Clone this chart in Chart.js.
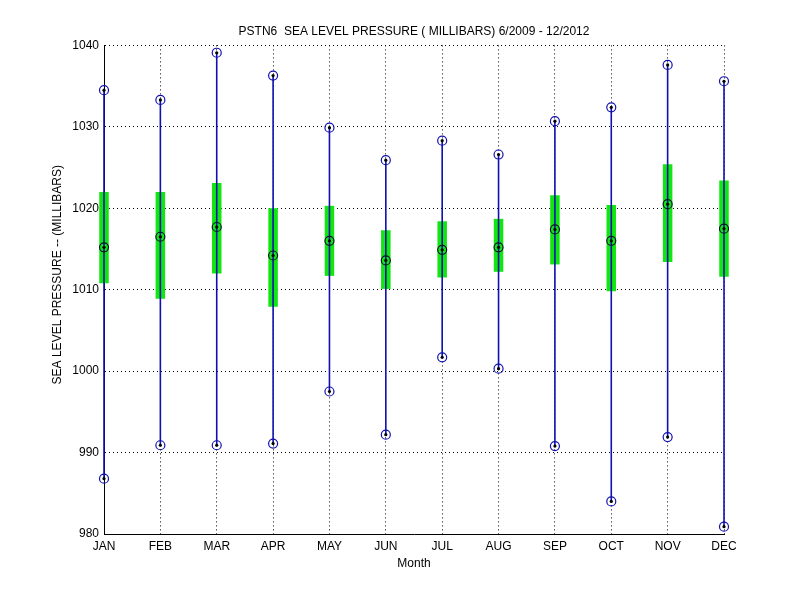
<!DOCTYPE html>
<html lang="en">
<head>
    <meta charset="UTF-8">
    <title>PSTN6 Sea Level Pressure</title>
    <script src="https://cdn.jsdelivr.net/npm/chart.js"></script>
    <style>
        body { margin: 0; background: #fff; }
        #chart-box { width: 800px; height: 600px; }
    </style>
</head>
<body>
    <div id="chart-box">
        <canvas id="pressure-chart" width="800" height="600"></canvas>
    </div>

    <script>
        // monthly statistics (millibars)
        const months = ['JAN', 'FEB', 'MAR', 'APR', 'MAY', 'JUN', 'JUL', 'AUG', 'SEP', 'OCT', 'NOV', 'DEC'];
        const maxVals = [1034.5, 1033.3, 1039.1, 1036.3, 1029.9, 1025.9, 1028.3, 1026.6, 1030.7, 1032.4, 1037.6, 1035.6];
        const minVals = [986.8, 990.9, 990.9, 991.1, 997.5, 992.2, 1001.7, 1000.3, 990.8, 984.0, 991.9, 980.9];
        const medianVals = [1015.2, 1016.5, 1017.7, 1014.2, 1016.0, 1013.6, 1014.9, 1015.2, 1017.4, 1016.0, 1020.5, 1017.5];
        const upperVals = [1022.0, 1022.0, 1023.1, 1020.0, 1020.3, 1017.3, 1018.4, 1018.7, 1021.6, 1020.4, 1025.4, 1023.4];
        const lowerVals = [1010.8, 1008.9, 1012.0, 1007.9, 1011.7, 1010.1, 1011.5, 1012.2, 1013.1, 1009.8, 1013.4, 1011.6];
        const yTicks = [980, 990, 1000, 1010, 1020, 1030, 1040];

        const lineBlue = '#1010b0';
        const boxGreen = '#12e612';
        const fontFamily = "'Liberation Sans', Arial, sans-serif";

        const monthNo = months.map((m, i) => i + 1);
        const boxData = monthNo.map((x, i) => ({ x: x, y: [lowerVals[i], upperVals[i]] }));
        const whiskerData = monthNo.map((x, i) => ({ x: x, y: [minVals[i], maxVals[i]] }));
        const extremeData = monthNo.map((x, i) => ({ x: x, y: maxVals[i] }))
            .concat(monthNo.map((x, i) => ({ x: x, y: minVals[i] })));
        const medianData = monthNo.map((x, i) => ({ x: x, y: medianVals[i] }));

        Chart.defaults.font.family = fontFamily;
        Chart.defaults.font.size = 12;
        Chart.defaults.color = '#000';

        const ctx = document.getElementById('pressure-chart').getContext('2d');
        new Chart(ctx, {
            type: 'scatter',
            data: {
                datasets: [
                    {   // black centre dots
                        type: 'scatter', order: 0, clip: false,
                        data: extremeData.concat(medianData),
                        pointStyle: 'circle', pointRadius: 1.6,
                        backgroundColor: '#000', borderColor: '#000', borderWidth: 0
                    },
                    {   // circles at max / min
                        type: 'scatter', order: 1, clip: false,
                        data: extremeData,
                        pointStyle: 'circle', pointRadius: 4.5,
                        backgroundColor: 'rgba(0,0,0,0)', borderColor: lineBlue, borderWidth: 1.2
                    },
                    {   // circles at median
                        type: 'scatter', order: 1, clip: false,
                        data: medianData,
                        pointStyle: 'circle', pointRadius: 4.5,
                        backgroundColor: 'rgba(0,0,0,0)', borderColor: '#101030', borderWidth: 1.2
                    },
                    {   // min-max whisker
                        type: 'bar', order: 2, clip: false, grouped: false,
                        data: whiskerData,
                        barThickness: 1.6,
                        inflateAmount: 0,
                        backgroundColor: lineBlue, borderWidth: 0
                    },
                    {   // interquartile box
                        type: 'bar', order: 3, clip: false, grouped: false,
                        data: boxData,
                        barThickness: 9.5,
                        inflateAmount: 0,
                        backgroundColor: boxGreen, borderWidth: 0
                    }
                ]
            },
            options: {
                responsive: false,
                animation: false,
                layout: { padding: { left: 0, right: 76, top: 0, bottom: 0 } },
                plugins: {
                    legend: { display: false },
                    tooltip: { enabled: false },
                    title: {
                        display: true,
                        fullSize: false,
                        text: 'PSTN6  SEA LEVEL PRESSURE ( MILLIBARS) 6/2009 - 12/2012',
                        font: { size: 12, weight: 'normal' },
                        color: '#000',
                        padding: { top: 24, bottom: 7 }
                    }
                },
                scales: {
                    x: {
                        type: 'linear',
                        min: 1, max: 12,
                        offset: false,
                        afterBuildTicks: (scale) => { scale.ticks = monthNo.map(v => ({ value: v })); },
                        afterFit: (scale) => { scale.height = 66; },
                        ticks: {
                            padding: 5,
                            maxRotation: 0,
                            autoSkip: false,
                            callback: (value) => months[value - 1]
                        },
                        grid: { offset: false, color: '#000', lineWidth: 1, drawTicks: false },
                        border: { display: true, color: '#000', width: 1, dash: [1, 3] },
                        title: {
                            display: true, text: 'Month',
                            font: { size: 12 }, padding: { top: 0, bottom: 29 }
                        }
                    },
                    y: {
                        type: 'linear',
                        min: 980, max: 1040,
                        afterBuildTicks: (scale) => { scale.ticks = yTicks.map(v => ({ value: v })); },
                        afterFit: (scale) => { scale.width = 104; },
                        ticks: { padding: 5, callback: (value) => String(value) },
                        grid: { color: '#000', lineWidth: 1, drawTicks: false },
                        border: { display: true, color: '#000', width: 1, dash: [1, 3] },
                        title: {
                            display: true,
                            text: '         SEA LEVEL PRESSURE -- (MILLIBARS)',
                            font: { size: 12 }, padding: { top: 50, bottom: 0 }
                        }
                    }
                }
            }
        });
    </script>
</body>
</html>
